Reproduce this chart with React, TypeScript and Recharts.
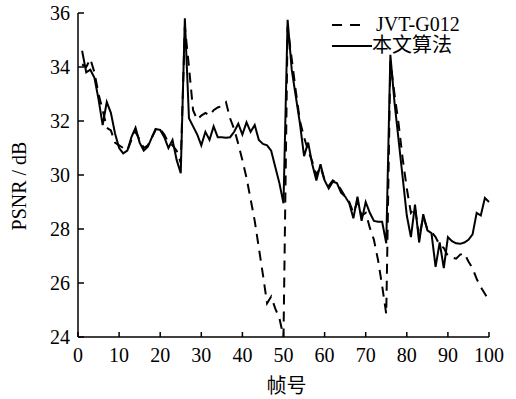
import { LineChart, Line, XAxis, YAxis, Legend } from 'recharts';

const FRAMES = Array.from({ length: 100 }, (_, i) => i + 1);

const JVT_G012 = [
  34.1, 34.0, 34.3, 33.8, 33.0, 32.4, 31.75, 31.65, 31.2, 31.1,
  31.0, 30.9, 31.3, 31.6, 31.3, 31.0, 31.1, 31.4, 31.75, 31.7,
  31.5, 31.2, 31.1, 30.9, 30.45, 35.5, 34.0, 32.4, 32.05, 32.2,
  32.3, 32.2, 32.4, 32.5, 32.55, 32.7, 32.1, 31.7, 31.15, 30.55,
  29.9, 29.1, 28.3, 27.3, 26.3, 25.25, 25.5, 25.05, 24.7, 24.0,
  35.5, 34.3, 33.1, 32.0, 31.4, 30.9, 30.5, 30.0, 30.3, 29.8,
  29.6, 29.8, 29.7, 29.45, 29.2, 29.0, 28.6, 29.0, 28.5, 28.6,
  28.05, 27.6, 26.85, 25.9, 24.85, 34.2, 33.0, 31.9, 30.6, 29.5,
  28.6, 28.8, 27.7, 28.45, 28.0, 27.9, 27.7, 27.4, 27.3, 27.0,
  26.95, 26.9, 27.05, 27.1, 26.8, 26.55, 26.15, 25.85, 25.6, 25.35,
];

const PROPOSED = [
  34.6, 33.8, 33.9, 33.6, 32.8, 31.85, 32.7, 32.3, 31.55, 31.0,
  30.8, 30.9, 31.4, 31.75, 31.2, 30.9, 31.05, 31.4, 31.7, 31.67,
  31.4, 31.0, 31.3, 30.56, 30.07, 35.8, 32.1, 31.8, 31.5, 31.1,
  31.6, 31.3, 31.8, 31.4, 31.4, 31.38, 31.4, 31.6, 31.9, 31.5,
  31.95, 31.6, 31.85, 31.3, 31.15, 31.1, 30.9, 30.3, 29.7, 28.95,
  35.75, 33.9, 32.9, 31.9, 30.7, 31.2, 30.4, 29.8, 30.4, 29.8,
  29.5, 29.75, 29.7, 29.35, 29.2, 28.95, 28.4, 29.2, 28.3, 29.0,
  28.6, 28.3, 28.27, 28.27, 27.47, 34.45, 32.7, 31.3, 29.9, 28.5,
  27.7, 28.9, 27.5, 28.55, 27.95, 27.85, 26.6, 27.5, 26.55, 27.7,
  27.55, 27.47, 27.45, 27.5, 27.6, 27.8, 28.6, 28.5, 29.15, 29.0,
];

const X_TICKS = [0, 10, 20, 30, 40, 50, 60, 70, 80, 90, 100];
const Y_TICKS = [24, 26, 28, 30, 32, 34, 36];

const SERIES = [
  { key: 'jvt', label: 'JVT-G012', dash: '10 7', values: JVT_G012 },
  { key: 'ours', label: '本文算法', dash: undefined, values: PROPOSED },
];

const FONT = "'Liberation Serif', 'Noto Sans CJK SC', serif";

const data = FRAMES.map((f, i) => ({
  frame: f,
  jvt: JVT_G012[i],
  ours: PROPOSED[i],
}));

function ChartLegend() {
  return (
    <div style={{ fontFamily: FONT, fontSize: 20, color: '#000', lineHeight: '21px' }}>
      {SERIES.map((s) => (
        <div key={s.key} style={{ display: 'flex', alignItems: 'center', height: 21 }}>
          <svg width={s.dash ? 44 : 40} height={21} style={{ display: 'block' }}>
            <line
              x1={0}
              x2={s.dash ? 29 : 40}
              y1={11}
              y2={11}
              stroke="#000"
              strokeWidth={2}
              strokeDasharray={s.dash ? '10 8' : undefined}
            />
          </svg>
          <span>{s.label}</span>
        </div>
      ))}
    </div>
  );
}

function YTitle() {
  return (
    <text
      x={19}
      y={186}
      transform="rotate(-90 19 186)"
      textAnchor="middle"
      dominantBaseline="central"
      fontFamily={FONT}
      fontSize={20}
      fill="#000"
    >
      PSNR / dB
    </text>
  );
}

export default function App() {
  const tickStyle = { fontFamily: FONT, fontSize: 20, fill: '#000' };
  return (
    <div style={{ position: 'absolute', top: 0, left: 0, width: 516, height: 399, background: '#fff' }}>
      <LineChart width={516} height={399} data={data} margin={{ top: 13, right: 27, bottom: 0, left: 0 }}>
        <XAxis
          dataKey="frame"
          type="number"
          domain={[0, 100]}
          ticks={X_TICKS}
          interval={0}
          tick={tickStyle}
          tickSize={-5}
          tickMargin={16}
          axisLine={{ stroke: '#000', strokeWidth: 1.5 }}
          tickLine={{ stroke: '#000', strokeWidth: 1.5 }}
          height={62}
          label={{ value: '帧号', position: 'insideBottom', offset: 6, dx: 3, fontFamily: FONT, fontSize: 20, fill: '#000' }}
        />
        <YAxis
          type="number"
          domain={[24, 36]}
          ticks={Y_TICKS}
          interval={0}
          tick={tickStyle}
          tickSize={-6}
          tickMargin={14}
          width={78}
          axisLine={{ stroke: '#000', strokeWidth: 1.5 }}
          tickLine={{ stroke: '#000', strokeWidth: 1.5 }}
          label={<YTitle />}
        />
        <Legend
          layout="horizontal"
          verticalAlign="middle"
          align="center"
          content={<ChartLegend />}
          wrapperStyle={{ top: 14, left: 332, width: 140, height: 42 }}
        />
        {SERIES.map((s) => (
          <Line
            key={s.key}
            dataKey={s.key}
            name={s.label}
            type="linear"
            stroke="#000"
            strokeWidth={2}
            strokeDasharray={s.dash}
            dot={false}
            activeDot={false}
            isAnimationActive={false}
          />
        ))}
      </LineChart>
    </div>
  );
}
